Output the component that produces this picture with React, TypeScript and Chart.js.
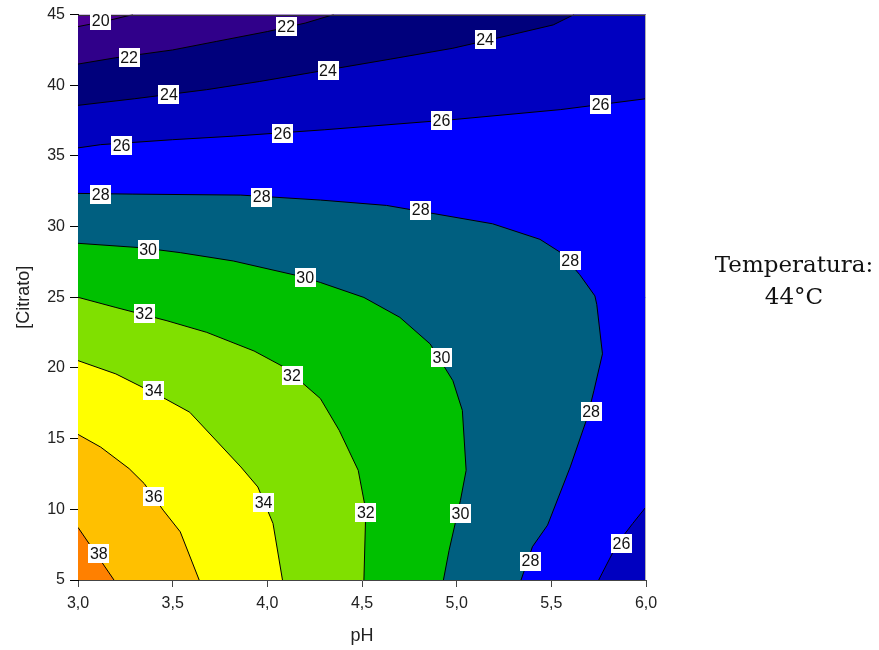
import React, { useEffect, useRef } from 'react';
import { Chart, registerables } from 'chart.js';

Chart.register(...registerables);

// Axis limits
const xMin = 3.0;
const xMax = 6.0;
const yMin = 5;
const yMax = 45;
const xStep = 0.5;
const yStep = 5;

// Contour lines (pH, [Citrato])
const line20: [number, number][] = [[3.0, 44.15], [3.15, 44.55], [3.29, 45.0]];
const line22: [number, number][] = [[3.0, 41.5], [3.2, 41.95], [3.5, 42.5], [3.73, 43.1], [4.0, 43.8], [4.2, 44.4], [4.35, 45.0]];
const line24: [number, number][] = [[3.0, 38.58], [3.3, 39.05], [3.68, 39.69], [3.96, 40.27], [4.3, 41.05], [4.65, 41.85], [4.98, 42.62], [5.25, 43.45], [5.51, 44.27], [5.62, 45.0]];
const line26: [number, number][] = [[3.0, 35.57], [3.12, 35.8], [3.5, 36.15], [3.82, 36.4], [4.3, 36.85], [4.98, 37.57], [5.55, 38.28], [6.0, 39.05]];
const line26b: [number, number][] = [[6.0, 10.17], [5.93, 9.0], [5.85, 7.6], [5.75, 5.0]];
const line28: [number, number][] = [[3.0, 32.35], [3.29, 32.3], [3.86, 32.23], [4.28, 31.88], [4.63, 31.5], [5.19, 30.2], [5.44, 29.1], [5.55, 28.16], [5.65, 26.6], [5.73, 25.1], [5.74, 24.5], [5.77, 21.0], [5.725, 18.4], [5.69, 16.5], [5.6, 13.0], [5.48, 8.88], [5.4, 7.35], [5.34, 5.0]];
const line30: [number, number][] = [[3.0, 28.82], [3.34, 28.5], [3.54, 28.16], [3.82, 27.57], [4.17, 26.5], [4.28, 26.05], [4.51, 24.99], [4.7, 23.58], [4.86, 21.7], [4.98, 19.1], [5.03, 17.0], [5.05, 12.76], [5.02, 10.64], [4.96, 7.1], [4.93, 5.0]];
const line32: [number, number][] = [[3.0, 25.0], [3.2, 24.28], [3.47, 23.34], [3.68, 22.52], [3.93, 21.2], [4.09, 20.05], [4.28, 17.84], [4.38, 15.58], [4.48, 12.76], [4.52, 9.94], [4.51, 5.0]];
const line34: [number, number][] = [[3.0, 20.52], [3.2, 19.58], [3.45, 17.9], [3.59, 16.87], [3.86, 13.0], [3.95, 11.58], [4.03, 9.0], [4.08, 5.0]];
const line36: [number, number][] = [[3.0, 15.3], [3.12, 14.4], [3.27, 12.88], [3.35, 11.82], [3.45, 9.94], [3.54, 8.41], [3.64, 5.0]];
const line38: [number, number][] = [[3.0, 8.72], [3.19, 5.0]];

// Band colours, from lowest (<20) to highest (>38)
const bandColors = ['#4c0094', '#30008a', '#00007c', '#0000c0', '#0000ff', '#005f80', '#00c000', '#80e000', '#ffff00', '#ffc000', '#ff8000'];

// Contour labels: [pH, Citrato, text]
const contourLabels: [number, number, string][] = [
  [3.12, 44.6, '20'],
  [3.27, 41.97, '22'], [4.1, 44.15, '22'],
  [3.48, 39.36, '24'], [4.32, 41.05, '24'], [5.15, 43.24, '24'],
  [3.23, 35.76, '26'], [4.08, 36.6, '26'], [4.92, 37.52, '26'], [5.76, 38.65, '26'], [5.87, 7.6, '26'],
  [3.12, 32.3, '28'], [3.97, 32.09, '28'], [4.81, 31.17, '28'], [5.6, 27.57, '28'], [5.71, 16.9, '28'], [5.39, 6.34, '28'],
  [3.37, 28.35, '30'], [4.2, 26.38, '30'], [4.92, 20.73, '30'], [5.02, 9.73, '30'],
  [3.35, 23.84, '32'], [4.13, 19.46, '32'], [4.52, 9.8, '32'],
  [3.4, 18.4, '34'], [3.98, 10.5, '34'],
  [3.4, 10.93, '36'],
  [3.11, 6.9, '38'],
];

const toPts = (arr: [number, number][]) => arr.map(([x, y]) => ({ x, y }));

const TL: [number, number] = [xMin, yMax];
const TR: [number, number] = [xMax, yMax];
const BR: [number, number] = [xMax, yMin];
const BL: [number, number] = [xMin, yMin];

// Super-level regions (z > level), nested, drawn from lowest to highest
const regions: [number, number][][] = [
  [BL, TL, TR, BR],
  [...line20, TR, BR, BL],
  [...line22, TR, BR, BL],
  [...line24, TR, BR, BL],
  [...line26, ...line26b, BL],
  [...line28, BL],
  [...line30, BL],
  [...line32, BL],
  [...line34, BL],
  [...line36, BL],
  [...line38, BL],
];

const contourLines = [line20, line22, line24, line26, line26b, line28, line30, line32, line34, line36, line38];

const FONT = 'Arial, "Liberation Sans", sans-serif';

const labelPlugin = {
  id: 'contourLabels',
  afterDatasetsDraw(chart: any) {
    const { ctx, chartArea, scales } = chart;
    const xs = scales.x;
    const ys = scales.y;
    ctx.save();
    // frame top and right
    ctx.lineWidth = 1;
    ctx.strokeStyle = '#333333';
    ctx.beginPath();
    ctx.moveTo(chartArea.left, Math.round(chartArea.top) + 0.5);
    ctx.lineTo(chartArea.right, Math.round(chartArea.top) + 0.5);
    ctx.stroke();
    ctx.strokeStyle = '#b0b0b0';
    ctx.beginPath();
    ctx.moveTo(Math.round(chartArea.right) - 0.5, chartArea.top);
    ctx.lineTo(Math.round(chartArea.right) - 0.5, chartArea.bottom);
    ctx.stroke();
    // labels
    ctx.font = '16px ' + FONT;
    ctx.textAlign = 'center';
    ctx.textBaseline = 'middle';
    for (const [vx, vy, t] of contourLabels) {
      const px = xs.getPixelForValue(vx);
      const py = ys.getPixelForValue(vy);
      const w = ctx.measureText(t).width + 3;
      const h = 19;
      ctx.fillStyle = '#ffffff';
      ctx.fillRect(Math.round(px - w / 2), Math.round(py - h / 2), Math.round(w), h);
      ctx.fillStyle = '#111111';
      ctx.fillText(t, px, py + 1);
    }
    ctx.restore();
  },
};

export default function App() {
  const ref = useRef<HTMLCanvasElement | null>(null);

  useEffect(() => {
    if (!ref.current) return;
    const polyDatasets = regions.map((pts, i) => ({
      data: toPts(pts),
      showLine: true,
      fill: 'shape',
      backgroundColor: bandColors[i],
      borderColor: 'rgba(0,0,0,0)',
      borderWidth: 0,
      pointRadius: 0,
      tension: 0,
      order: 1000 - i,
    }));
    const lineDatasets = contourLines.map((pts) => ({
      data: toPts(pts),
      showLine: true,
      fill: false,
      borderColor: '#000000',
      borderWidth: 1,
      pointRadius: 0,
      tension: 0,
      order: 0,
    }));
    const chart = new Chart(ref.current, {
      type: 'scatter',
      data: { datasets: [...polyDatasets, ...lineDatasets] as any },
      options: {
        responsive: false,
        animation: false,
        events: [],
        layout: { padding: { left: 0, top: 13, right: 233, bottom: 0 } },
        plugins: { legend: { display: false }, tooltip: { enabled: false }, title: { display: false } },
        scales: {
          x: {
            type: 'linear',
            min: xMin,
            max: xMax,
            z: 1,
            afterFit: (s: any) => { s.height = 70; },
            ticks: {
              stepSize: xStep,
              padding: 7,
              color: '#222',
              font: { size: 16, family: FONT },
              callback: (v: any) => Number(v).toFixed(1).replace('.', ','),
            },
            grid: { drawOnChartArea: false, drawTicks: true, tickLength: 7, color: '#444' },
            border: { display: true, color: '#444', width: 1 },
            title: { display: true, text: 'pH', color: '#222', font: { size: 18, family: FONT }, padding: { top: 0, bottom: 3 } },
          },
          y: {
            type: 'linear',
            min: yMin,
            max: yMax,
            z: 1,
            afterFit: (s: any) => { s.width = 78; },
            ticks: {
              stepSize: yStep,
              padding: 5,
              color: '#222',
              font: { size: 16, family: FONT },
              callback: (v: any) => String(v),
            },
            grid: { drawOnChartArea: false, drawTicks: true, tickLength: 8, color: '#000' },
            border: { display: true, color: '#000', width: 1 },
            title: { display: true, text: '[Citrato]', color: '#222', font: { size: 18, family: FONT }, padding: { top: 13, bottom: 0 } },
          },
        },
      },
      plugins: [labelPlugin],
    } as any);
    return () => chart.destroy();
  }, []);

  return (
    <div style={{ position: 'absolute', left: 0, top: 0, width: 879, height: 650, background: '#fff' }}>
      <canvas ref={ref} width={879} height={650} style={{ display: 'block' }} />
      <div
        style={{
          position: 'absolute',
          left: 694,
          top: 248,
          width: 200,
          textAlign: 'center',
          fontFamily: '"DejaVu Serif", serif',
          fontSize: 23,
          lineHeight: '32px',
          color: '#111',
          whiteSpace: 'nowrap',
        }}
      >
        <div>Temperatura:</div>
        <div>44°C</div>
      </div>
    </div>
  );
}
